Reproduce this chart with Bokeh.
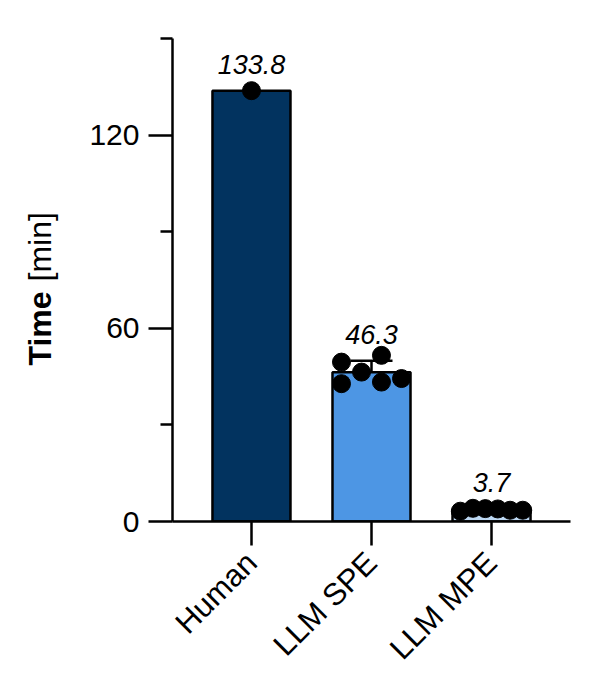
import numpy as np
from bokeh.plotting import figure
from bokeh.layouts import row
from bokeh.models import (Range1d, FixedTicker, ColumnDataSource, Whisker, TeeHead)
from bokeh.core.properties import value
from bokeh.embed import file_html
from bokeh.resources import INLINE

# ---- data ----
categories = ["Human", "LLM SPE", "LLM MPE"]
human_times = [133.8]
spe_times = [49.5, 51.6, 46.4, 42.8, 43.3, 44.4]
mpe_times = [3.2, 4.1, 4.0, 3.9, 3.5, 3.5]
y_ticks = [0, 60, 120]
y_minor_ticks = [30, 90, 150]
bar_colors = ["#02335F", "#4D96E4", "#BDD8F3"]
y_title_parts = ["Time", "[min]"]

# point spread within each bar (category units), layout only
human_spread = [0.0]
spe_spread = [-0.25, 0.083, -0.083, -0.25, 0.083, 0.25]
mpe_spread = [-0.26, -0.155, -0.052, 0.052, 0.155, 0.26]

groups = [human_times, spe_times, mpe_times]
spreads = [human_spread, spe_spread, mpe_spread]

FONT = "Liberation Sans"
Y_MAX = 150
FRAME_W, FRAME_H = 398, 483
LABEL_W = 64
BT = 38

centers = np.arange(len(categories)) + 0.5
means = [float(np.mean(g)) for g in groups]
sds = [float(np.std(g, ddof=1)) if len(g) > 1 else 0.0 for g in groups]

p = figure(frame_width=FRAME_W, frame_height=FRAME_H, output_backend="svg",
           toolbar_location=None,
           x_range=Range1d(-0.158, 3.158), y_range=Range1d(0, Y_MAX),
           min_border_left=172 - LABEL_W, min_border_right=18, min_border_top=BT,
           min_border_bottom=10)
p.outline_line_color = None
p.grid.visible = False
p.background_fill_color = "white"

# bars
bar_src = ColumnDataSource(dict(x=centers, top=means, color=bar_colors))
p.vbar(x="x", top="top", bottom=0, width=0.65, source=bar_src,
       fill_color="color", line_color="black", line_width=2.5)

# error bars (only where more than one value)
eb_x, eb_lo, eb_hi = [], [], []
for c, m, s, g in zip(centers, means, sds, groups):
    if len(g) > 1:
        eb_x.append(c); eb_lo.append(m - s); eb_hi.append(m + s)
eb_src = ColumnDataSource(dict(x=eb_x, lower=eb_lo, upper=eb_hi))
wh = Whisker(base="x", lower="lower", upper="upper", source=eb_src, dimension="height",
             line_color="black", line_width=2.5,
             upper_head=TeeHead(size=42, line_color="black", line_width=2.5),
             lower_head=TeeHead(size=42, line_color="black", line_width=2.5))
p.add_layout(wh)

# points
px, py = [], []
for c, g, sp in zip(centers, groups, spreads):
    for v, o in zip(g, sp):
        px.append(c + o); py.append(v)
p.scatter(px, py, size=18, fill_color="black", line_color="black")

# value labels, above mean + sd
px_per_unit = FRAME_H / Y_MAX
pad = 26 / px_per_unit
lab_src = ColumnDataSource(dict(x=centers, y=[m + s + pad for m, s in zip(means, sds)],
                                text=[f"{m:.1f}" for m in means]))
p.text(x="x", y="y", text="text", source=lab_src, text_align="center",
       text_baseline="alphabetic", text_font=value(FONT),
       text_font_style="italic", text_font_size="27px", text_color="black")

# axes
xa = p.xaxis[0]
xa.ticker = FixedTicker(ticks=list(centers), minor_ticks=[])
xa.major_label_overrides = {float(c): n for c, n in zip(centers, categories)}
xa.major_label_orientation = np.pi / 4
ya = p.yaxis[0]
ya.ticker = FixedTicker(ticks=y_ticks, minor_ticks=y_minor_ticks)

for ax in (xa, ya):
    ax.axis_line_width = 2.5
    ax.axis_line_color = "black"
    ax.major_tick_line_width = 2.5
    ax.major_tick_line_color = "black"
    ax.major_tick_in = 0
    ax.major_tick_out = 24
    ax.minor_tick_line_width = 2.5
    ax.minor_tick_line_color = "black"
    ax.minor_tick_in = 0
    ax.minor_tick_out = 12
    ax.major_label_text_font = FONT
    ax.major_label_text_color = "black"
ya.major_label_text_font_size = "30px"
ya.major_label_standoff = 9
xa.major_label_text_font_size = "31px"
xa.major_label_standoff = 12

# y axis title panel: bold "Time" + regular "[min]"
LH = 680
t = figure(frame_width=LABEL_W, frame_height=LH, output_backend="svg",
           toolbar_location=None, x_axis_location=None, y_axis_location=None,
           x_range=Range1d(0, LABEL_W), y_range=Range1d(0, LH), min_border=0)
t.grid.visible = False
t.outline_line_color = None
t.text(x=[39], y=[LH - 327], text=[y_title_parts[0]], angle=np.pi / 2,
       text_align="left", text_baseline="alphabetic", text_font=value(FONT),
       text_font_style="bold", text_font_size="32px", text_color="black")
t.text(x=[39], y=[LH - 243], text=[y_title_parts[1]], angle=np.pi / 2,
       text_align="left", text_baseline="alphabetic", text_font=value(FONT),
       text_font_style="normal", text_font_size="32px", text_color="black")

layout = row(t, p)
open("out.html", "w").write(file_html(layout, INLINE))
